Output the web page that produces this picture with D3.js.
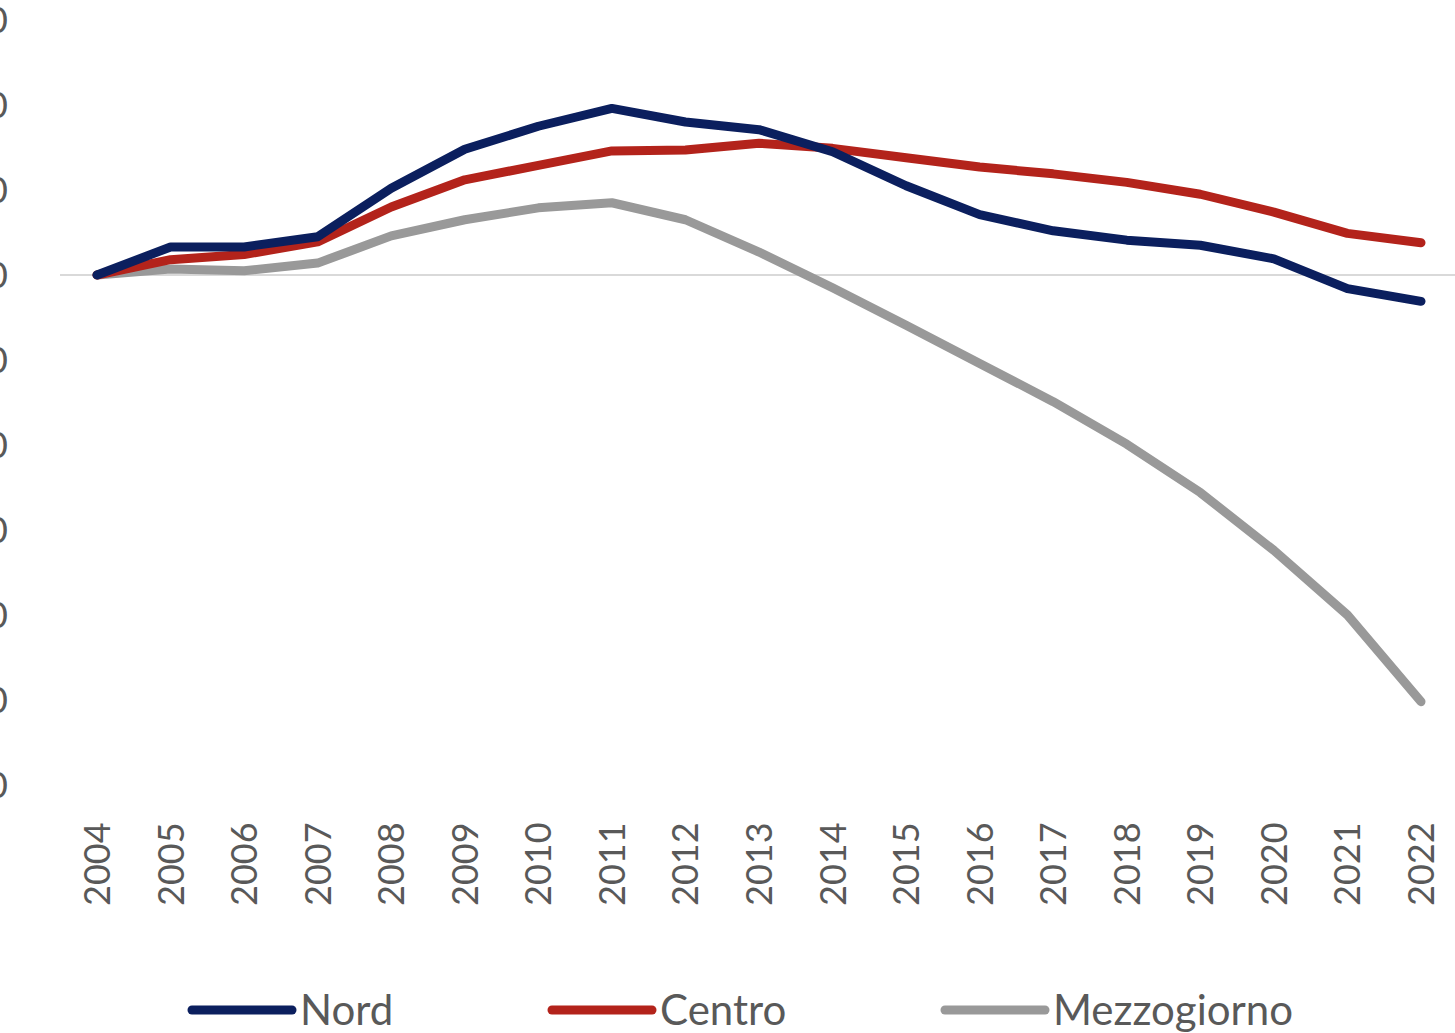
<!DOCTYPE html>
<html>
<head>
<meta charset="utf-8">
<script src="https://cdn.jsdelivr.net/npm/d3@7"></script>
<style>
  body { margin: 0; background: #fff; }
  svg { display: block; }
</style>
</head>
<body>
<svg id="chart"></svg>
<script>
// data
var years = ["2004","2005","2006","2007","2008","2009","2010","2011","2012","2013",
             "2014","2015","2016","2017","2018","2019","2020","2021","2022"];
var nord = [0, 3.3, 3.3, 4.5, 10.2, 14.8, 17.5, 19.6, 18.0, 17.1,
            14.5, 10.5, 7.1, 5.2, 4.1, 3.5, 1.9, -1.6, -3.1];
var centro = [0, 1.8, 2.4, 3.9, 8.0, 11.2, 12.9, 14.6, 14.7, 15.5,
              14.9, 13.8, 12.7, 11.9, 10.9, 9.5, 7.4, 4.9, 3.8];
var mezzogiorno = [0, 0.7, 0.5, 1.4, 4.6, 6.5, 7.9, 8.5, 6.5, 2.7,
                   -1.5, -5.9, -10.4, -14.9, -19.9, -25.6, -32.4, -40.0, -50.2];
var yTicks = [30, 20, 10, 0, -10, -20, -30, -40, -50, -60];
var seriesNames = ["Nord", "Centro", "Mezzogiorno"];
var seriesColors = ["#0b1f5e", "#b3231b", "#999999"];

var W = 1455, H = 1033;
var svg = d3.select("#chart").attr("width", W).attr("height", H);

// scales
var x = d3.scalePoint().domain(years).range([97, 1421]);
var y = d3.scaleLinear().domain([30, -60]).range([20, 785]);

// y tick labels (cut off on the left edge like in the source image)
svg.append("g").selectAll("text")
    .data(yTicks).enter().append("text")
    .attr("x", 20)
    .attr("y", function(d) { return y(d); })
    .attr("dy", "0.35em")
    .attr("text-anchor", "end")
    .attr("style", "font: 36px Lato, sans-serif; fill:#595959;")
    .attr("transform", "translate(-12,0)")
    .text(function(d) { return d; });

// zero line
svg.append("line")
    .attr("x1", 60).attr("x2", W)
    .attr("y1", y(0)).attr("y2", y(0))
    .attr("style", "stroke:#d9d9d9; stroke-width:2;");

// x axis labels, rotated
svg.append("g").selectAll("text")
    .data(years).enter().append("text")
    .attr("transform", function(d) { return "translate(" + (x(d) + 13) + ",906) rotate(-90)"; })
    .attr("text-anchor", "start")
    .attr("style", "font: 36px Lato, sans-serif; fill:#595959;")
    .text(function(d) { return d; });

// lines
var line = d3.line()
    .x(function(d, i) { return x(years[i]); })
    .y(function(d) { return y(d); });

var allSeries = [nord, centro, mezzogiorno];
// grey first, then red, blue on top
[2, 1, 0].forEach(function(k) {
    svg.append("path")
        .datum(allSeries[k])
        .attr("d", line)
        .attr("fill", "none")
        .attr("stroke", seriesColors[k])
        .attr("stroke-width", 9)
        .attr("stroke-linejoin", "round")
        .attr("stroke-linecap", "round");
});

// legend
var legendX = [192, 552, 945];
var lg = svg.append("g").selectAll("g")
    .data(seriesNames).enter().append("g")
    .attr("transform", function(d, i) { return "translate(" + legendX[i] + ",1010)"; });
lg.append("line")
    .attr("x1", 0).attr("x2", 100)
    .attr("stroke", function(d, i) { return seriesColors[i]; })
    .attr("stroke-width", 9)
    .attr("stroke-linecap", "round");
lg.append("text")
    .attr("x", 108)
    .attr("dy", "0.35em")
    .attr("style", "font: 42px Lato, sans-serif; fill:#595959;")
    .text(function(d) { return d; });
</script>
</body>
</html>
